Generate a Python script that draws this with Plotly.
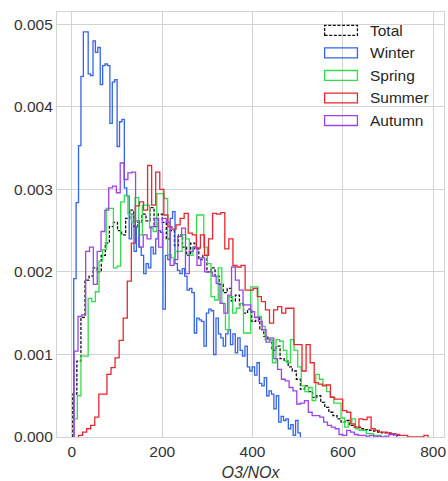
import numpy as np
import plotly.graph_objects as go

# ---- data (density values in units of 1e-3) ----
series_names = ["Total", "Winter", "Spring", "Summer", "Autumn"]

total_range = (2.0, 722.0)
total_vals = [0.52, 0.92, 1.45, 1.90, 1.95, 2.05, 2.00, 2.20, 2.35, 2.55,
              2.60, 2.50, 2.45, 2.65, 2.75, 2.55, 2.60, 2.70, 2.62, 2.78,
              2.55, 2.70, 2.60, 2.40, 2.50, 2.32, 2.45, 2.30, 2.20, 2.35,
              2.28, 2.15, 2.20, 2.00, 2.05, 1.95, 1.85, 1.75, 1.80, 1.65,
              1.72, 1.60, 1.50, 1.55, 1.40, 1.45, 1.30, 1.22, 1.18, 1.05,
              1.10, 0.95, 0.92, 0.85, 0.80, 0.70, 0.58, 0.62, 0.55, 0.48,
              0.50, 0.42, 0.36, 0.30, 0.26, 0.22, 0.18, 0.20, 0.14, 0.12,
              0.12, 0.10, 0.09, 0.08, 0.07, 0.06, 0.05, 0.05, 0.04, 0.02]

winter_range = (4.0, 506.0)
winter_vals = [1.92, 2.84, 3.53, 4.37, 4.91, 4.91, 4.40, 4.38, 4.80, 4.66,
               4.72, 4.27, 4.50, 4.52, 4.50, 3.80, 4.30, 4.33, 3.52, 3.82,
               3.85, 3.02, 2.92, 2.40, 2.70, 2.25, 2.55, 2.30, 2.20, 1.98,
               2.10, 2.05, 2.30, 2.22, 2.40, 2.50, 2.48, 1.55, 2.20, 2.15,
               2.65, 2.73, 2.10, 2.02, 1.98, 2.04, 1.95, 1.78, 1.80, 1.75,
               1.26, 1.44, 1.42, 1.40, 1.10, 1.50, 1.55, 1.53, 1.00, 1.44,
               1.25, 1.20, 1.10, 1.25, 1.30, 1.12, 1.25, 1.02, 1.20, 1.05,
               0.98, 1.10, 0.85, 0.80, 0.85, 0.75, 0.90, 0.65, 0.62, 0.72,
               0.50, 0.56, 0.52, 0.34, 0.50, 0.18, 0.25, 0.20, 0.22, 0.10,
               0.15, 0.02, 0.20, 0.05]

spring_range = (4.0, 684.0)
spring_vals = [0.22, 0.50, 0.98, 0.98, 1.68, 1.64, 1.76, 2.13, 2.27, 2.77,
               2.77, 2.05, 2.07, 2.85, 2.93, 2.70, 2.60, 2.90, 2.45, 2.81,
               2.81, 2.53, 2.49, 2.95, 2.95, 2.89, 2.21, 2.17, 2.25, 2.25,
               2.45, 2.40, 2.20, 2.30, 2.69, 2.69, 2.30, 2.10, 1.70, 1.66,
               2.05, 1.62, 1.30, 1.70, 1.50, 1.56, 1.62, 1.26, 1.26, 1.82,
               1.82, 1.46, 1.34, 1.18, 1.18, 0.90, 1.18, 1.16, 1.05, 0.90,
               1.18, 1.05, 0.85, 0.62, 0.55, 0.60, 0.44, 0.76, 0.70, 0.63,
               0.55, 0.49, 0.41, 0.41, 0.23, 0.12, 0.18, 0.22, 0.10, 0.08,
               0.08, 0.04, 0.04, 0.02, 0.02]

summer_range = (14.6, 788.6)
summer_vals = [0.02, 0.06, 0.10, 0.14, 0.24, 0.52, 0.52, 0.76, 0.84, 0.96,
               1.17, 1.44, 1.89, 2.35, 2.80, 2.85, 2.75, 3.29, 2.81, 3.21,
               3.00, 2.69, 2.55, 2.52, 2.57, 2.65, 2.71, 2.47, 2.45, 2.29,
               2.45, 2.20, 2.40, 2.71, 2.70, 2.72, 2.28, 2.40, 2.08, 2.06,
               2.08, 1.78, 1.78, 1.80, 1.70, 1.64, 1.54, 1.38, 1.54, 1.58,
               1.50, 1.56, 1.56, 1.12, 1.12, 0.80, 1.12, 0.90, 0.66, 0.64,
               0.62, 0.63, 0.48, 0.46, 0.46, 0.32, 0.30, 0.16, 0.12, 0.22,
               0.21, 0.24, 0.10, 0.08, 0.06, 0.06, 0.05, 0.04, 0.03, 0.02,
               0.02, 0.00, 0.00, 0.00, 0.00, 0.02]

autumn_range = (5.0, 719.0)
autumn_vals = [1.04, 1.46, 1.48, 2.25, 2.30, 1.85, 2.25, 2.49, 2.75, 3.02,
               3.04, 2.96, 3.32, 3.12, 3.20, 3.21, 2.62, 2.30, 2.45, 2.40,
               2.55, 2.65, 2.30, 2.65, 2.60, 2.08, 2.15, 2.43, 2.53, 1.98,
               2.25, 2.30, 2.08, 2.17, 2.00, 2.00, 1.95, 1.86, 1.62, 1.50,
               1.72, 2.06, 1.90, 1.78, 1.60, 1.60, 1.52, 1.45, 1.40, 1.30,
               1.15, 1.20, 0.95, 0.82, 0.70, 0.68, 0.60, 0.56, 0.40, 0.41,
               0.44, 0.30, 0.26, 0.26, 0.24, 0.18, 0.14, 0.12, 0.10, 0.03,
               0.02, 0.08, 0.06, 0.03, 0.02, 0.02, 0.01, 0.02, 0.00, 0.01,
               0.00, 0.01, 0.03, 0.03]

x_ticks = [0, 200, 400, 600, 800]
y_ticks = [0.000, 0.001, 0.002, 0.003, 0.004, 0.005]
y_ticktext = ["0.000", "0.001", "0.002", "0.003", "0.004", "0.005"]
x_title = "O3/NOx"

# ---- styles ----
colors = {"Total": "#111111", "Winter": "#3464e8", "Spring": "#33dc4c",
          "Summer": "#e8262f", "Autumn": "#9b44e8"}
dashes = {"Total": "3px,1.6px", "Winter": "solid", "Spring": "solid",
          "Summer": "solid", "Autumn": "solid"}

data = {"Total": (total_range, total_vals), "Winter": (winter_range, winter_vals),
        "Spring": (spring_range, spring_vals), "Summer": (summer_range, summer_vals),
        "Autumn": (autumn_range, autumn_vals)}

fig = go.Figure()
for name in series_names:
    (lo, hi), vals = data[name]
    vals = np.array(vals) * 1e-3
    edges = np.linspace(lo, hi, len(vals) + 1)
    xs = np.concatenate([[edges[0]], edges])
    ys = np.concatenate([[0.0], vals, [0.0]])
    fig.add_trace(go.Scatter(x=xs, y=ys, mode="lines", line_shape="hv", name=name,
                             line=dict(color=colors[name], width=1.3, dash=dashes[name]),
                             showlegend=False, hoverinfo="skip"))

FONT = "Liberation Sans, Arial, sans-serif"
grid = "#d3d3d3"

# plot area in pixels: x 57..446, y 12..440
L, R, T, B = 57, 446, 12, 440
def px(x):
    return (x - L) / (R - L)
def py(y):
    return (B - y) / (B - T)

shapes = []
annotations = []
row_centers = [30.5, 53.2, 75.9, 98.6, 121.3]
for name, yc in zip(series_names, row_centers):
    shapes.append(dict(type="rect", xref="paper", yref="paper",
                       x0=px(326), x1=px(359), y0=py(yc + 5), y1=py(yc - 5),
                       line=dict(color=colors[name], width=1.3,
                                 dash=dashes[name] if name == "Total" else "solid"),
                       fillcolor="rgba(0,0,0,0)"))
    annotations.append(dict(xref="paper", yref="paper", x=px(370), y=py(yc),
                            text=name, showarrow=False, xanchor="left", yanchor="middle",
                            font=dict(family=FONT, size=15.5, color="#262626")))

fig.update_layout(
    width=448, height=481,
    margin=dict(l=L, r=448 - R, t=T, b=481 - B),
    paper_bgcolor="white", plot_bgcolor="white",
    shapes=shapes, annotations=annotations,
    showlegend=False,
    font=dict(family=FONT, size=15.5, color="#333333"),
)
fig.update_xaxes(range=[-33, 824], tickvals=x_ticks, ticks="", showgrid=True,
                 gridcolor=grid, gridwidth=1, zeroline=False, showline=True, mirror=True,
                 linecolor=grid, linewidth=1.2, ticklabeloverflow="allow",
                 tickfont=dict(family=FONT, size=15.5, color="#333333"),
                 title=dict(text="<i>" + x_title + "</i>", standoff=8,
                            font=dict(family=FONT, size=16, color="#333333")))
fig.update_yaxes(range=[0, 0.00515], tickvals=y_ticks, ticktext=y_ticktext, ticks="",
                 showgrid=True, gridcolor=grid, gridwidth=1, zeroline=False,
                 showline=True, mirror=True, linecolor=grid, linewidth=1.2,
                 tickfont=dict(family=FONT, size=15.5, color="#333333"))

fig.write_html("out.html")
